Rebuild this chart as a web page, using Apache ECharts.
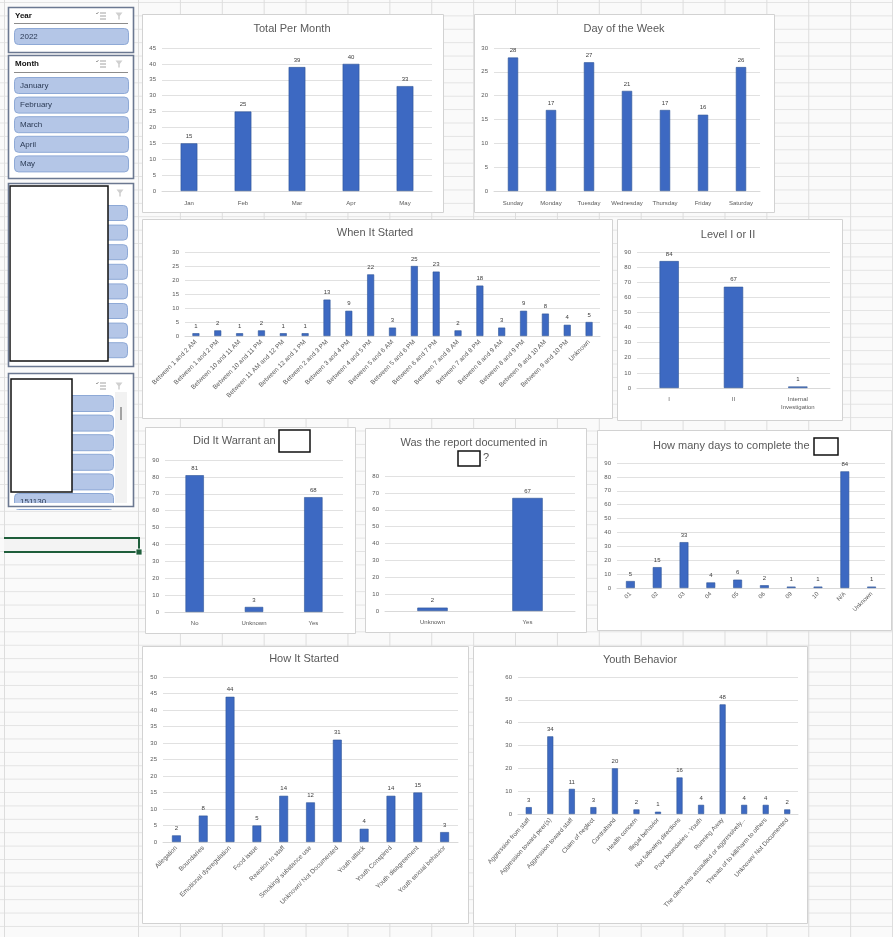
<!DOCTYPE html>
<html><head><meta charset="utf-8">
<script src="https://cdn.jsdelivr.net/npm/echarts@6/dist/echarts.min.js"></script>
<style>
html,body{margin:0;padding:0;background:#fafafa;}
#sheet{position:absolute;left:0;top:0;width:893px;height:937px;background-color:#fafafa;
 background-image:linear-gradient(to bottom,#e3e3e3 0,#e3e3e3 1px,transparent 1px);
 background-size:100% 13.4px;background-position:0 2px;}
#cols{position:absolute;left:138px;top:0;width:755px;height:937px;
 background-image:linear-gradient(to right,#dddddd 0,#dddddd 1px,transparent 1px);
 background-size:41.9px 100%;}
#colA{position:absolute;left:4px;top:0;width:1px;height:937px;background:#dddddd;}
#chart{position:absolute;left:0;top:0;width:893px;height:937px;}
</style></head>
<body><div id="sheet"></div><div id="cols"></div><div id="colA"></div><div id="chart"></div>
<script>
// ---------------- data ----------------
const monthCats = ['Jan','Feb','Mar','Apr','May'];
const monthVals = [15,25,39,40,33];
const weekdayCats = ['Sunday','Monday','Tuesday','Wednesday','Thursday','Friday','Saturday'];
const weekdayVals = [28,17,27,21,17,16,26];
const startTimeCats = ['Between 1 and 2 AM','Between 1 and 2 PM','Between 10 and 11 AM','Between 10 and 11 PM',
  'Between 11 AM and 12 PM','Between 12 and 1 PM','Between 2 and 3 PM','Between 3 and 4 PM','Between 4 and 5 PM',
  'Between 5 and 6 AM','Between 5 and 6 PM','Between 6 and 7 PM','Between 7 and 8 AM','Between 7 and 8 PM',
  'Between 8 and 9 AM','Between 8 and 9 PM','Between 9 and 10 AM','Between 9 and 10 PM','Unknown'];
const startTimeVals = [1,2,1,2,1,1,13,9,22,3,25,23,2,18,3,9,8,4,5];
const levelCats = ['I','II','Internal\nInvestigation'];
const levelVals = [84,67,1];
const warrantCats = ['No','Unknown','Yes'];
const warrantVals = [81,3,68];
const documentedCats = ['Unknown','Yes'];
const documentedVals = [2,67];
const daysCats = ['01','02','03','04','05','06','09','10','N/A','Unknown'];
const daysVals = [5,15,33,4,6,2,1,1,84,1];
const howCats = ['Allegation','Boundaries','Emotional dysregulation','Food issue','Reaction to staff',
  'Smoking/ substance use','Unknown/ Not Documented','Youth attack','Youth Conspired','Youth disagreement','Youth sexual behavior'];
const howVals = [2,8,44,5,14,12,31,4,14,15,3];
const behaviorCats = ['Aggression from staff','Aggression toward peer(s)','Aggression toward staff','Claim of neglect',
  'Contraband','Health concern','Illegal behavior','Not following directions','Poor boundaries - Youth','Running Away',
  'The client was assaulted or aggressively...','Threats of to kill/harm to others','Unknown/ Not Documented'];
const behaviorVals = [3,34,11,3,20,2,1,16,4,48,4,4,2];
// value-axis ranges [max, step]
const monthAxis = [45,5], weekdayAxis = [30,5], startAxis = [30,5], levelAxis = [90,10], warrantAxis = [90,10],
      documentedAxis = [80,10], daysAxis = [90,10], howAxis = [50,5], behaviorAxis = [60,10];
const yearItems = ['2022'];
const monthItems = ['January','February','March','April','May'];

// ---------------- layout ----------------
const FONT = 'Liberation Sans, Arial, sans-serif';
const specs = [
 {title:'Total Per Month', cats:monthCats, vals:monthVals, ax:monthAxis, box:[142,14,301,198], grid:[162,48,270,143], t:[292,29], rot:0, fs:6, m:8, bw:'31%'},
 {title:'Day of the Week', cats:weekdayCats, vals:weekdayVals, ax:weekdayAxis, box:[474,14,300,198], grid:[494,48,266,143], t:[624,29], rot:0, fs:6, m:8, bw:'27%'},
 {title:'When It Started', cats:startTimeCats, vals:startTimeVals, ax:startAxis, box:[142,219,470,199], grid:[185,252,415,84], t:[375,233], rot:45, fs:6.5, m:5, bw:'32%'},
 {title:'Level I or II', cats:levelCats, vals:levelVals, ax:levelAxis, box:[617,219,225,201], grid:[637,252,193,136], t:[728,235], rot:0, fs:6, m:7, bw:'30%'},
 {title:'Did It Warrant an', cats:warrantCats, vals:warrantVals, ax:warrantAxis, box:[145,427,210,206], grid:[165,460,178,152], t:[193,441], align:'left', rot:0, fs:6, m:7, bw:'31%'},
 {title:'Was the report documented in', cats:documentedCats, vals:documentedVals, ax:documentedAxis, box:[365,428,221,204], grid:[385,476,190,135], t:[474,443], rot:0, fs:6, m:7, bw:'32%'},
 {title:'How many days to complete the', cats:daysCats, vals:daysVals, ax:daysAxis, box:[597,430,294,200], grid:[617,463,268,125], t:[653,446], align:'left', rot:45, fs:6, m:5, bw:'33%'},
 {title:'How It Started', cats:howCats, vals:howVals, ax:howAxis, box:[142,646,326,277], grid:[163,677,295,165], t:[304,659], rot:45, fs:6.5, m:5, bw:'33%'},
 {title:'Youth Behavior', cats:behaviorCats, vals:behaviorVals, ax:behaviorAxis, box:[473,646,334,277], grid:[518,677,280,137], t:[640,660], rot:48, fs:6.3, m:5, bw:'28%'}
];

const graphics = [];
// chart panels
specs.forEach(s => graphics.push({type:'rect', z:-10, shape:{x:s.box[0]+0.5,y:s.box[1]+0.5,width:s.box[2],height:s.box[3]}, style:{fill:'#ffffff', stroke:'#d2d2d2', lineWidth:1}}));
// redacted title boxes
[[279,430,31,22],[458,451,22,15],[814,438,24,17]].forEach(b => graphics.push({type:'rect', z:5, shape:{x:b[0],y:b[1],width:b[2],height:b[3]}, style:{fill:'#ffffff', stroke:'#111111', lineWidth:1.5}}));

function txt(x,y,text,opt){ opt=opt||{};
  return {type:'text', z:6, x, y, style:{text, fontSize:opt.fs||8, fontFamily:FONT, fontWeight:opt.fw||'normal', fill:opt.fill||'#2b3a55',
    align:opt.align||'left', textAlign:opt.align||'left', verticalAlign:'middle', textVerticalAlign:'middle'}};
}
function button(x,y,w,h,label){
  graphics.push({type:'rect', z:2, shape:{x:x+0.5,y:y+0.5,width:w,height:h,r:4}, style:{fill:'#b4c6e7', stroke:'#8ea9d6', lineWidth:1}});
  if(label) graphics.push(txt(x+6,y+h/2+0.5,label,{fs:8}));
}
function icons(x,y,multi){
  if(multi){
    [-3,0,3].forEach(d => graphics.push({type:'line', z:6, shape:{x1:x+1,y1:y+d,x2:x+7,y2:y+d}, style:{stroke:'#8a8a8a', lineWidth:0.8}}));
    graphics.push({type:'polyline', z:6, shape:{points:[[x-3,y-3],[x-2,y-2],[x-0.5,y-4]]}, style:{stroke:'#8a8a8a', lineWidth:0.8, fill:null}});
  }
  const fx=x+20;
  graphics.push({type:'polygon', z:6, shape:{points:[[fx-3.5,y-3.5],[fx+3.5,y-3.5],[fx+0.8,y],[fx+0.8,y+3.5],[fx-0.8,y+3.5],[fx-0.8,y]]}, style:{fill:'#d0d0d0'}});
}
function frame(x,y,w,h){
  graphics.push({type:'rect', z:1, shape:{x:x+0.5,y:y+0.5,width:w,height:h}, style:{fill:'#ffffff', stroke:null}});
}
function frameStroke(x,y,w,h){
  graphics.push({type:'rect', z:8, shape:{x:x+0.5,y:y+0.5,width:w,height:h}, style:{fill:null, stroke:'#6b7891', lineWidth:1.6}});
}
// Year slicer
frame(8,7,125,45);
graphics.push(txt(15,16,'Year',{fs:8,fw:'bold',fill:'#111'}));
graphics.push({type:'line', z:3, shape:{x1:14,y1:23.5,x2:128,y2:23.5}, style:{stroke:'#8c8c8c', lineWidth:1}});
icons(99,16,true);
yearItems.forEach((t,i)=>button(14,28,114,16,t));
frameStroke(8,7,125,45);
// Month slicer
frame(8,55,125,123);
graphics.push(txt(15,64,'Month',{fs:8,fw:'bold',fill:'#111'}));
graphics.push({type:'line', z:3, shape:{x1:14,y1:72.5,x2:128,y2:72.5}, style:{stroke:'#8c8c8c', lineWidth:1}});
icons(99,64,true);
monthItems.forEach((t,i)=>button(14,77+i*19.6,114,16,t));
frameStroke(8,55,125,123);
// third slicer (redacted)
frame(8,183,125,183);
icons(100,193,false);
for(let i=0;i<8;i++) button(14,205+i*19.6,113,15,'');
graphics.push({type:'rect', z:7, shape:{x:10,y:186,width:98,height:175}, style:{fill:'#ffffff', stroke:'#111111', lineWidth:1.5}});
frameStroke(8,183,125,183);
// fourth slicer (redacted)
frame(8,373,125,133);
icons(99,386,true);
graphics.push({type:'rect', z:2, shape:{x:115,y:392,width:12,height:112}, style:{fill:'#f2f2f2'}});
graphics.push({type:'line', z:3, shape:{x1:121,y1:407,x2:121,y2:420}, style:{stroke:'#555', lineWidth:1}});
for(let i=0;i<5;i++) button(14,395+i*19.6,99,16,'');
button(14,493,99,16,'151130');
graphics.push({type:'rect', z:7, shape:{x:9,y:503,width:123,height:6}, style:{fill:'#ffffff'}});
graphics.push({type:'rect', z:7, shape:{x:11,y:379,width:61,height:113}, style:{fill:'#ffffff', stroke:'#111111', lineWidth:1.5}});
frameStroke(8,373,125,133);
// selected cell outline
graphics.push({type:'rect', z:1, shape:{x:4,y:538,width:135,height:14}, style:{fill:'#f3f3f3'}});
graphics.push({type:'polyline', z:3, shape:{points:[[4,538],[139,538],[139,552]]}, style:{stroke:'#1f5e3b', lineWidth:2, fill:null}});
graphics.push({type:'line', z:3, shape:{x1:4,y1:552,x2:136,y2:552}, style:{stroke:'#1f5e3b', lineWidth:2}});
graphics.push({type:'rect', z:4, shape:{x:136,y:549,width:6,height:6}, style:{fill:'#1f5e3b', stroke:'#ffffff', lineWidth:0.8}});

// ---------------- option ----------------
const titles = specs.map(s => ({text:s.title, left:s.t[0], top:s.t[1], textAlign:s.align||'center', textVerticalAlign:'middle', padding:0,
  textStyle:{fontSize:11, fontWeight:'normal', color:'#595959', fontFamily:FONT}}));
titles.push({text:'?', left:483, top:458, textAlign:'left', textVerticalAlign:'middle', padding:0, textStyle:{fontSize:11, fontWeight:'normal', color:'#595959', fontFamily:FONT}});

const option = {
  backgroundColor:'transparent',
  animation:false,
  textStyle:{fontFamily:FONT},
  title: titles,
  grid: specs.map(s => ({left:s.grid[0], top:s.grid[1], width:s.grid[2], height:s.grid[3], containLabel:false, outerBoundsMode:'none'})),
  xAxis: specs.map((s,i) => ({type:'category', gridIndex:i, data:s.cats,
    axisTick:{show:false}, axisLine:{show:true, lineStyle:{color:'#d9d9d9', width:1}},
    axisLabel:{interval:0, rotate:s.rot, fontSize:s.fs, color:'#595959', margin:s.m, fontFamily:FONT, lineHeight:8}})),
  yAxis: specs.map((s,i) => ({type:'value', gridIndex:i, min:0, max:s.ax[0], interval:s.ax[1],
    axisLine:{show:false}, axisTick:{show:false},
    splitLine:{show:true, lineStyle:{color:'#e1e1e1', width:1}},
    axisLabel:{fontSize:6, color:'#595959', margin:6, fontFamily:FONT}})),
  series: specs.map((s,i) => ({type:'bar', xAxisIndex:i, yAxisIndex:i, data:s.vals, barWidth:s.bw,
    itemStyle:{color:'#3d69c2', borderColor:'#2f5597', borderWidth:0.6},
    label:{show:true, position:'top', distance:4, fontSize:6, color:'#404040', fontFamily:FONT}})),
  graphic: {elements: graphics}
};
const chart = echarts.init(document.getElementById('chart'), null, {renderer:'canvas'});
chart.setOption(option);
</script></body></html>
